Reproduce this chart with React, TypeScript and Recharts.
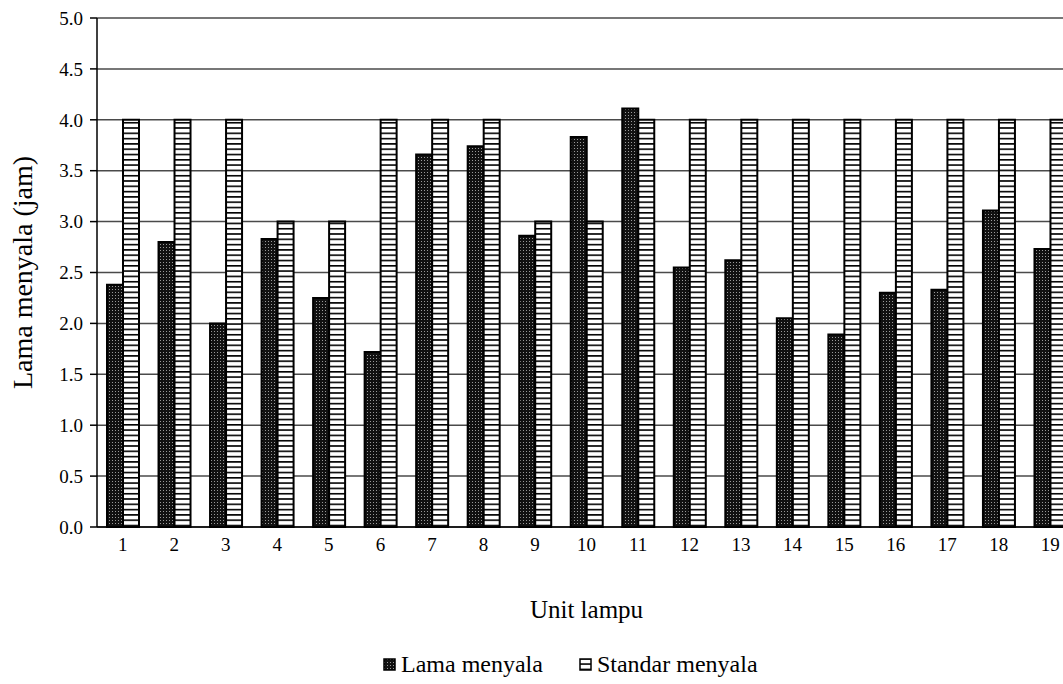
import { BarChart, Bar, XAxis, YAxis, CartesianGrid, Legend, Label } from "recharts";

// values
const units = ["1", "2", "3", "4", "5", "6", "7", "8", "9", "10", "11", "12", "13", "14", "15", "16", "17", "18", "19"];
const lamaMenyala = [2.38, 2.8, 2.0, 2.83, 2.25, 1.72, 3.66, 3.74, 2.86, 3.83, 4.11, 2.55, 2.62, 2.05, 1.89, 2.3, 2.33, 3.11, 2.73];
const standarMenyala = [4, 4, 4, 3, 3, 4, 4, 4, 3, 3, 4, 4, 4, 4, 4, 4, 4, 4, 4];
const yTicks = [0, 0.5, 1, 1.5, 2, 2.5, 3, 3.5, 4, 4.5, 5];

const data = units.map((unit, i) => ({
  unit,
  lama: lamaMenyala[i],
  standar: standarMenyala[i],
}));

const FONT = "'Times New Roman', 'Liberation Serif', 'DejaVu Serif', serif";

// svg patterns used for the bars and the legend swatches
const Patterns = () => (
  <defs>
    <pattern id="dots" width="3" height="3" patternUnits="userSpaceOnUse">
      <rect width="3" height="3" fill="#111" />
      <rect x="1" y="1" width="1" height="1" fill="#999" />
    </pattern>
    <pattern id="hlines" width="5.3" height="5.3" patternUnits="userSpaceOnUse">
      <rect width="5.3" height="5.3" fill="#fff" />
      <rect y="0" width="5.3" height="1.6" fill="#000" />
    </pattern>
  </defs>
);

const YTitle = ({ viewBox }: any) => {
  const cy = viewBox.y + viewBox.height / 2;
  const cx = 22;
  return (
    <text
      x={cx}
      y={cy}
      transform={`rotate(-90 ${cx} ${cy})`}
      textAnchor="middle"
      dominantBaseline="central"
      style={{ fontFamily: FONT }}
      fontSize={28}
      fill="#000"
    >
      Lama menyala (jam)
    </text>
  );
};

const XTitle = ({ viewBox }: any) => (
  <text
    x={viewBox.x + viewBox.width / 2}
    y={609}
    textAnchor="middle"
    dominantBaseline="central"
    style={{ fontFamily: FONT }}
    fontSize={25}
    fill="#000"
  >
    Unit lampu
  </text>
);

const LegendContent = () => {
  const items = [
    { label: "Lama menyala", fill: "url(#dots)" },
    { label: "Standar menyala", fill: "url(#hlines)" },
  ];
  return (
    <div style={{ display: "flex", paddingLeft: 383, height: 40, alignItems: "center", fontFamily: FONT, fontSize: 24 }}>
      {items.map((it) => (
        <div key={it.label} style={{ display: "flex", alignItems: "center", marginRight: 36 }}>
          <svg width={13} height={13} style={{ marginRight: 5 }}>
            <rect x={1} y={1} width={11} height={11} fill={it.fill} stroke="#000" strokeWidth={1.5} />
          </svg>
          <span>{it.label}</span>
        </div>
      ))}
    </div>
  );
};

export default function App() {
  return (
    <div style={{ position: "absolute", left: 0, top: 0, width: 1063, height: 684, overflow: "hidden", background: "#fff" }}>
      <BarChart
        width={1080}
        height={684}
        data={data}
        margin={{ top: 18, right: 4, left: 0, bottom: 0 }}
        barGap={0}
        barSize={16}
        style={{ fontFamily: FONT }}
      >
        <Patterns />
        <CartesianGrid vertical={false} stroke="#4a4a4a" strokeWidth={1.5} />
        <XAxis
          dataKey="unit"
          height={117}
          tickLine={false}
          tickSize={0}
          tickMargin={11}
          axisLine={{ stroke: "#000", strokeWidth: 1.5 }}
          tick={{ fill: "#000", fontFamily: FONT, fontSize: 19 }}
          interval={0}
        >
          <Label content={<XTitle />} />
        </XAxis>
        <YAxis
          width={97}
          domain={[0, 5]}
          ticks={yTicks}
          tickFormatter={(v: number) => v.toFixed(1)}
          tickSize={7}
          tickMargin={7}
          tickLine={{ stroke: "#000", strokeWidth: 1.5 }}
          axisLine={{ stroke: "#000", strokeWidth: 1.5 }}
          tick={{ fill: "#000", fontFamily: FONT, fontSize: 19 }}
        >
          <Label content={<YTitle />} />
        </YAxis>
        <Legend verticalAlign="bottom" wrapperStyle={{ height: 40 }} content={<LegendContent />} />
        <Bar dataKey="lama" name="Lama menyala" fill="url(#dots)" stroke="#000" strokeWidth={2} isAnimationActive={false} />
        <Bar dataKey="standar" name="Standar menyala" fill="url(#hlines)" stroke="#000" strokeWidth={2} isAnimationActive={false} />
      </BarChart>
    </div>
  );
}
